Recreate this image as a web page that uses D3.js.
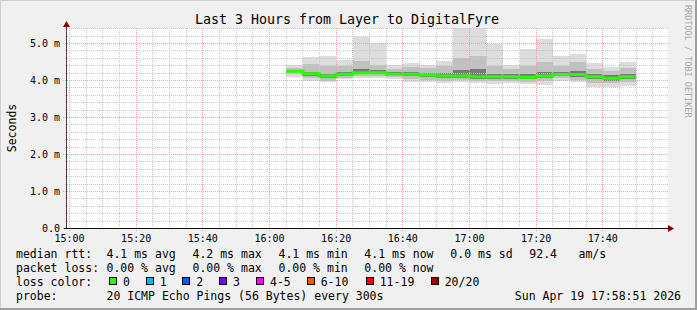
<!DOCTYPE html>
<html>
<head>
<meta charset="utf-8">
<script src="https://cdn.jsdelivr.net/npm/d3@7"></script>
<style>
  body { margin: 0; background: #f0f0f0; }
  text { font-family: "DejaVu Sans Mono", monospace; fill: #000; }
</style>
</head>
<body>
<svg></svg>
<script>
// smokeping style latency graph, 5 minute slots, values in ms
var width = 697;
var height = 310;

var slotStart = [
  "16:05", "16:10", "16:15", "16:20", "16:25", "16:30", "16:35", "16:40", "16:45", "16:50", "16:55",
  "17:00", "17:05", "17:10", "17:15", "17:20", "17:25", "17:30", "17:35", "17:40", "17:45"
];
var rttMax    = [4.41, 4.63, 4.66, 4.55, 5.18, 5.01, 4.41, 4.48, 4.43, 4.52, 5.42, 5.42, 4.99, 4.41, 4.85, 5.12, 4.66, 4.72, 4.48, 4.36, 4.49];
var rttHi     = [4.33, 4.45, 4.40, 4.40, 4.54, 4.42, 4.32, 4.36, 4.33, 4.38, 4.60, 4.67, 4.40, 4.30, 4.40, 4.49, 4.40, 4.50, 4.32, 4.26, 4.34];
var rttMidHi  = [4.28, 4.24, 4.18, 4.24, 4.30, 4.28, 4.23, 4.22, 4.20, 4.20, 4.28, 4.30, 4.18, 4.17, 4.18, 4.22, 4.22, 4.26, 4.18, 4.14, 4.18];
var rttMedian = [4.25, 4.18, 4.12, 4.17, 4.21, 4.21, 4.17, 4.17, 4.15, 4.12, 4.12, 4.10, 4.10, 4.10, 4.09, 4.12, 4.16, 4.16, 4.10, 4.06, 4.10];
var rttMidLo  = [4.22, 4.13, 4.06, 4.12, 4.17, 4.17, 4.14, 4.12, 4.10, 4.08, 4.07, 4.05, 4.05, 4.05, 4.04, 4.06, 4.12, 4.10, 4.04, 4.00, 4.04];
var rttLo     = [4.17, 4.08, 4.00, 4.08, 4.12, 4.12, 4.09, 4.05, 4.02, 4.00, 4.01, 3.99, 3.98, 3.98, 3.97, 3.98, 4.06, 4.02, 3.94, 3.92, 3.95];
var rttMin    = [4.09, 4.00, 3.95, 4.03, 4.06, 4.06, 4.03, 3.97, 3.95, 3.94, 3.95, 3.93, 3.91, 3.93, 3.91, 3.88, 4.00, 3.95, 3.82, 3.82, 3.86];

var yTicks = [0, 1, 2, 3, 4, 5];
var lossLabels = ["0", "1", "2", "3", "4-5", "6-10", "11-19", "20/20"];
var lossColors = ["#26ff00", "#00b8ff", "#0059ff", "#7e00ff", "#ff00ff", "#ff5500", "#ff0000", "#a10000"];
var rttStats = ["4.1 ms avg", "4.2 ms max", "4.1 ms min", "4.1 ms now", "0.0 ms sd", "92.4", "am/s"];
var lossStats = ["0.00 % avg", "0.00 % max", "0.00 % min", "0.00 % now"];

var parseTime = d3.timeParse("%Y-%m-%d %H:%M:%S");
var day = "2026-04-19 ";

var svg = d3.select("svg")
  .attr("width", width)
  .attr("height", height);

// frame
svg.append("rect").attr("width", width).attr("height", height).attr("fill", "#f0f0f0");
svg.append("path").attr("d", "M0,0H697V1H1V310H0Z").attr("fill", "#cfcfcf");
svg.append("path").attr("d", "M697,0V310H0V308H695V0Z").attr("fill", "#9e9e9e");

var x = d3.scaleTime()
  .domain([parseTime(day + "14:59:15"), parseTime(day + "17:59:15")])
  .range([67, 667]);

var y = d3.scaleLinear()
  .domain([0, 5])
  .range([228.5, 43.5]);

var plotTop = 28;
var yMax = y.invert(plotTop);
var crisp = v => Math.floor(v) + 0.5;

// canvas
svg.append("rect")
  .attr("x", 67).attr("y", plotTop)
  .attr("width", 601).attr("height", 228 - plotTop)
  .attr("fill", "#fff");

// smoke
var bars = slotStart.map((s, i) => {
  var t0 = parseTime(day + s + ":00");
  return {
    x0: x(t0), x1: x(d3.timeMinute.offset(t0, 5)),
    max: rttMax[i], hi: rttHi[i], midHi: rttMidHi[i], med: rttMedian[i],
    midLo: rttMidLo[i], lo: rttLo[i], min: rttMin[i]
  };
});

var bands = [
  ["min", "max", "#dcdcdc"],
  ["lo", "hi", "#c0c0c0"],
  ["midLo", "midHi", "#787878"]
];

var smoke = svg.append("g").classed("smoke", true);
bands.forEach(b => {
  smoke.selectAll(null)
    .data(bars)
    .enter()
    .append("rect")
      .attr("x", d => d.x0)
      .attr("width", d => d.x1 - d.x0)
      .attr("y", d => y(Math.min(d[b[1]], yMax)))
      .attr("height", d => y(d[b[0]]) - y(Math.min(d[b[1]], yMax)))
      .attr("fill", b[2])
      .attr("shape-rendering", "crispEdges");
});

// grid
var grid = svg.append("g").classed("grid", true);
var minorY = d3.range(0, 28).map(k => k / 5).filter(v => v <= yMax && v % 1 !== 0);
grid.selectAll(".hminor")
  .data(minorY)
  .enter()
  .append("line")
    .attr("x1", 65).attr("x2", 668)
    .attr("y1", d => crisp(y(d))).attr("y2", d => crisp(y(d)))
    .attr("stroke", "#c8c8c8")
    .attr("stroke-dasharray", "1,1");

var majorX = x.ticks(d3.timeMinute.every(20));
var minorX = x.ticks(d3.timeMinute.every(5)).filter(d => d.getMinutes() % 20 !== 0);
grid.selectAll(".vminor")
  .data(minorX)
  .enter()
  .append("line")
    .attr("x1", d => crisp(x(d))).attr("x2", d => crisp(x(d)))
    .attr("y1", plotTop).attr("y2", 230)
    .attr("stroke", "#c8c8c8")
    .attr("stroke-dasharray", "1,1");

grid.selectAll(".hmajor")
  .data(yTicks)
  .enter()
  .append("line")
    .attr("x1", 63).attr("x2", 668)
    .attr("y1", d => crisp(y(d))).attr("y2", d => crisp(y(d)))
    .attr("stroke", "#f2a0a0")
    .attr("stroke-dasharray", "1,1");

grid.selectAll(".vmajor")
  .data(majorX)
  .enter()
  .append("line")
    .attr("x1", d => crisp(x(d))).attr("x2", d => crisp(x(d)))
    .attr("y1", plotTop).attr("y2", 232)
    .attr("stroke", "#f2a0a0")
    .attr("stroke-dasharray", "1,1");

// median line, coloured by loss (all 0 here)
var medianPts = bars.map(d => [d.x0, y(d.med)]);
medianPts.push([bars[bars.length - 1].x1, y(bars[bars.length - 1].med)]);
svg.append("path")
  .attr("d", d3.line().curve(d3.curveStepAfter)(medianPts))
  .attr("fill", "none")
  .attr("stroke", lossColors[0])
  .attr("stroke-width", 3);

// axes
svg.append("line")
  .attr("x1", 66.5).attr("x2", 66.5).attr("y1", 228).attr("y2", 26)
  .attr("stroke", "#444");
svg.append("line")
  .attr("x1", 64).attr("x2", 669).attr("y1", 228.5).attr("y2", 228.5)
  .attr("stroke", "#111");
svg.append("path").attr("d", "M66.5,21L70,27H63Z").attr("fill", "#8b0000");
svg.append("path").attr("d", "M674,228.5L668,225V232Z").attr("fill", "#8b0000");

svg.selectAll(".ylabel")
  .data(yTicks)
  .enter()
  .append("text")
    .attr("x", 60)
    .attr("y", d => y(d) + 3.5)
    .attr("text-anchor", "end")
    .style("font-size", "10px")
    .text(d => d === 0 ? "0.0" : d.toFixed(1) + " m");

svg.selectAll(".xlabel")
  .data(majorX)
  .enter()
  .append("text")
    .attr("x", d => x(d))
    .attr("y", 241.5)
    .attr("text-anchor", "middle")
    .style("font-size", "10px")
    .text(d3.timeFormat("%H:%M"));

svg.append("text")
  .attr("transform", "translate(15.5,128) rotate(-90)")
  .attr("text-anchor", "middle")
  .style("font-size", "11.5px")
  .text("Seconds");

svg.append("text")
  .attr("x", 347)
  .attr("y", 24)
  .attr("text-anchor", "middle")
  .style("font-size", "13.3px")
  .text("Last 3 Hours from Layer to DigitalFyre");

svg.append("text")
  .attr("transform", "translate(684.5,5) rotate(90)")
  .style("font-size", "8.5px")
  .style("fill", "#a8a8a8")
  .text("RRDTOOL / TOBI OETIKER");

// legend
var legend = svg.append("g").style("font-size", "11.5px");
var statX = [106.5, 192.5, 278.5, 364.3, 450.3, 529.3, 578.5];

legend.append("text").attr("x", 16).attr("y", 258).text("median rtt:");
legend.selectAll(".rtt")
  .data(rttStats)
  .enter()
  .append("text")
    .attr("x", (d, i) => statX[i])
    .attr("y", 258)
    .text(d => d);

legend.append("text").attr("x", 16).attr("y", 272).text("packet loss:");
legend.selectAll(".loss")
  .data(lossStats)
  .enter()
  .append("text")
    .attr("x", (d, i) => statX[i])
    .attr("y", 272)
    .text(d => d);

legend.append("text").attr("x", 16).attr("y", 286).text("loss color:");
var boxX = [109, 145.7, 182.3, 219, 256, 306.7, 365.7, 430.7];
var item = legend.selectAll(".lc")
  .data(lossLabels)
  .enter()
  .append("g");
item.append("rect")
  .attr("x", (d, i) => Math.round(boxX[i]) + 0.5)
  .attr("y", 277.5)
  .attr("width", 7).attr("height", 7)
  .attr("fill", (d, i) => lossColors[i])
  .attr("stroke", "#000");
item.append("text")
  .attr("x", (d, i) => boxX[i] + 14)
  .attr("y", 286)
  .text(d => d);

legend.append("text").attr("x", 16).attr("y", 300).text("probe:");
legend.append("text").attr("x", 106.5).attr("y", 300).text("20 ICMP Echo Pings (56 Bytes) every 300s");
legend.append("text").attr("x", 681).attr("y", 300).attr("text-anchor", "end").text("Sun Apr 19 17:58:51 2026");
</script>
</body>
</html>
